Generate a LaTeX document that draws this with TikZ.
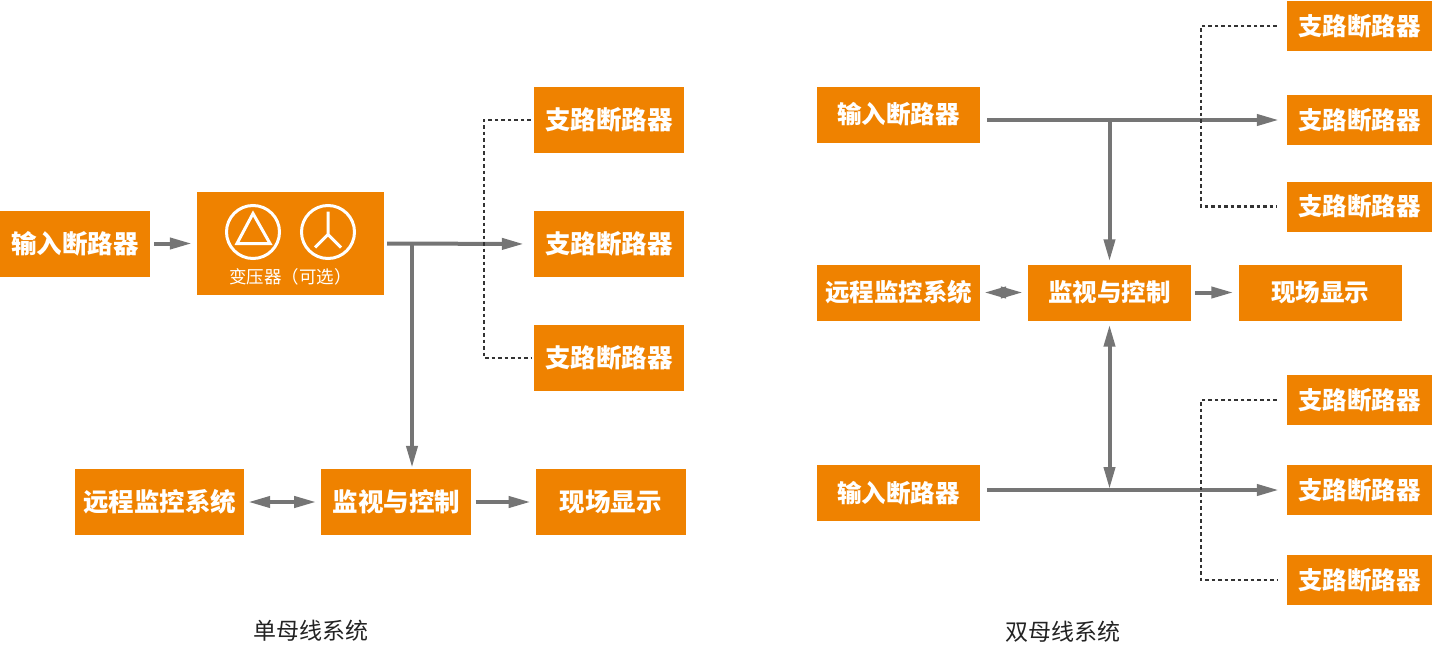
\documentclass[tikz,border=0pt]{standalone}
\usepackage{fontspec}
\setmainfont{Noto Sans CJK SC}
\usetikzlibrary{arrows.meta,positioning}
\definecolor{boksorange}{RGB}{239,130,0}
\definecolor{pilgraa}{RGB}{117,117,117}
\definecolor{tekstgraa}{RGB}{35,35,35}
\tikzset{
    %Define standard arrow tip
    >={Triangle[length=22pt,width=11pt]},
    %Define style for boxes
    boks/.style={
           rectangle,
           fill=boksorange,
           text=white,
           inner sep=0pt,
           font=\fontsize{25.5}{25.5}\selectfont\bfseries,
           text centered},
    storboks/.style={boks, minimum width=150pt, minimum height=66pt},
    smalboks/.style={boks, minimum width=163pt, minimum height=56pt,
           font=\fontsize{24.5}{24.5}\selectfont\bfseries},
    grenboks/.style={boks, minimum width=145pt, minimum height=50pt,
           font=\fontsize{24.5}{24.5}\selectfont\bfseries},
    % Define arrow style
    pil/.style={
           ->,
           draw=pilgraa,
           line width=4pt,
           shorten <=4pt,
           shorten >=5pt},
    stiplet/.style={
           draw=black!80,
           line width=2.2pt,
           dash pattern=on 3.5pt off 3pt,
           shorten <=3pt,
           shorten >=3pt},
    overskrift/.style={font=\fontsize{23}{23}\selectfont, text=tekstgraa}
}
\begin{document}
\begin{tikzpicture}[x=1pt,y=-1pt]
\useasboundingbox (0,0) rectangle (1432,645);
 %nodes, single bus
\node[storboks](in1) at (75,243.5){输入断路器};
\node[boks, minimum width=187pt, minimum height=103pt](trafo) at (290.5,243.5){};
\node[storboks](br1) at (609,120){支路断路器};
\node[storboks](br2) at (609,244){支路断路器};
\node[storboks](br3) at (609,358){支路断路器};
\node[storboks, minimum width=169pt](fjern1) at (159.5,502){远程监控系统};
\node[storboks, right=77pt of fjern1](overv1){监视与控制};
\node[storboks, right=64pt of overv1](visning1){现场显示};
\node[overskrift](tittel1) at (311,631){单母线系统};

 %transformer symbols
\begin{scope}[shift={(trafo.center)}, draw=white, line width=3pt]
\draw (-37.5,-11.5) circle (26.5pt);
\draw[line join=miter] (-37.5,-30) -- (-53.5,0) -- (-20.5,0) -- cycle;
\draw (37.5,-11.5) circle (26.5pt);
\draw (37.5,-32) -- (37.5,-9) -- (24.5,4)
      (37.5,-9) -- (50.5,4);
\node[text=white, font=\fontsize{17.5}{17.5}\selectfont](trafotekst) at (0,33.5){变压器（可选）};
\end{scope}

\coordinate (tap1) at (412,243.5);
\coordinate (streg1) at (484,0);

 %connectors, single bus
\draw[pil] (in1) -- (trafo);
\draw[pil, shorten <=3pt, shorten >=10pt] (trafo.east) -- (br2.west);
\draw[pil, shorten <=0pt, shorten >=1pt] (tap1) -- (tap1 |- overv1.north);
\draw[pil, <->] (fjern1) -- (overv1);
\draw[pil] (overv1) -- (visning1);
\draw[stiplet] (br1.west) -- (br1.west -| streg1) |- (br3.west);

 %nodes, double bus
\node[smalboks](inA) at (898.5,114.5){输入断路器};
\node[smalboks](fjern2) at (898.5,292.5){远程监控系统};
\node[smalboks](overv2) at (1109.5,292.5){监视与控制};
\node[smalboks](visning2) at (1320,292.5){现场显示};
\node[smalboks](inB) at (898.5,493){输入断路器};
\node[grenboks](rb1) at (1359.5,26){支路断路器};
\node[grenboks](rb2) at (1359.5,120){支路断路器};
\node[grenboks](rb3) at (1359.5,206.5){支路断路器};
\node[grenboks](rb4) at (1359.5,400){支路断路器};
\node[grenboks](rb5) at (1359.5,490){支路断路器};
\node[grenboks](rb6) at (1359.5,580){支路断路器};
\node[overskrift](tittel2) at (1063,632){双母线系统};

\coordinate (streg2) at (1201,0);

 %connectors, double bus
\draw[pil, shorten <=7pt, shorten >=8pt] (inA.east |- rb2.west) -- (rb2.west);
\draw[pil, shorten <=7pt, shorten >=8pt] (inB.east |- rb5.west) -- (rb5.west);
\draw[pil, shorten <=0pt, shorten >=3pt] (overv2.north |- rb2.west) -- (overv2.north);
\draw[pil, <->, shorten <=4pt, shorten >=1pt] (overv2.south) -- (overv2.south |- rb5.west);
\draw[pil, <->] (fjern2) -- (overv2);
\draw[pil] (overv2) -- (visning2);
\draw[stiplet, shorten >=10pt, shorten <=10pt] (rb1.west) -- (rb1.west -| streg2) |- (rb3.west);
\draw[stiplet, shorten >=10pt, shorten <=10pt] (rb4.west) -- (rb4.west -| streg2) |- (rb6.west);

\end{tikzpicture}
\end{document}
